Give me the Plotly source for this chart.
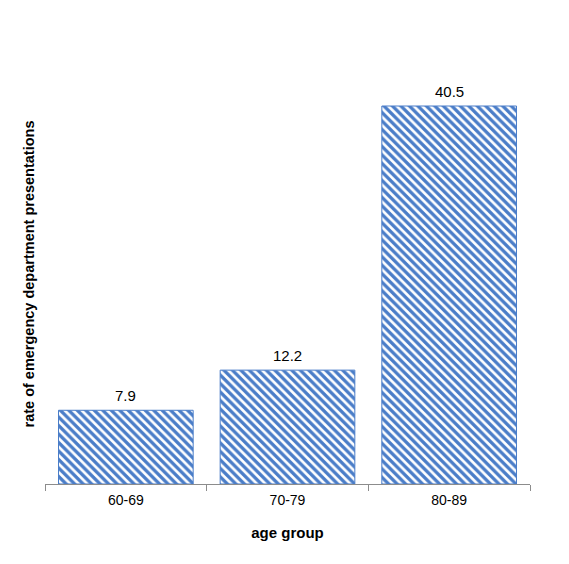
# Gráfico de barras com hachura: taxa de atendimentos de emergência por faixa etária
import plotly.graph_objects as go

# Dados
faixas_etarias = ['60-69', '70-79', '80-89']
taxas = [7.9, 12.2, 40.5]
rotulos = ['7.9', '12.2', '40.5']

azul = '#4A7DC8'

fig = go.Figure([go.Bar(
    x=faixas_etarias,
    y=taxas,
    marker=dict(
        color='white',
        line=dict(color=azul, width=1),
        pattern=dict(shape='\\', fgcolor=azul, bgcolor='white', size=6, solidity=0.55, fgopacity=1),
    ),
)])

# Rótulos acima das barras
for faixa, taxa, rotulo in zip(faixas_etarias, taxas, rotulos):
    fig.add_annotation(x=faixa, y=taxa, text=rotulo, showarrow=False,
                       yanchor='bottom', yshift=4, font=dict(size=15, color='#000000'))

fig.update_layout(
    width=569, height=564,
    margin=dict(l=37, r=47, t=56, b=88),
    paper_bgcolor='white', plot_bgcolor='white',
    font=dict(family='Liberation Sans, Arial', size=14, color='#000000'),
    bargap=0.167,
    showlegend=False,
    xaxis=dict(
        title=dict(text='<b>age group</b>', font=dict(size=15), standoff=20),
        automargin=False,
        showline=True, linecolor='#8c8c8c', linewidth=1,
        ticks='outside', tickson='boundaries', ticklen=6, tickcolor='#8c8c8c',
        tickfont=dict(size=14), ticklabelstandoff=3,
        showgrid=False,
    ),
    yaxis=dict(
        title=dict(text='<b>rate of emergency department presentations</b>', font=dict(size=14.5), standoff=5),
        automargin=False,
        range=[0, 45], showgrid=False, showticklabels=False, zeroline=False,
        showline=False, ticks='',
    ),
)

fig.write_html('out.html')
